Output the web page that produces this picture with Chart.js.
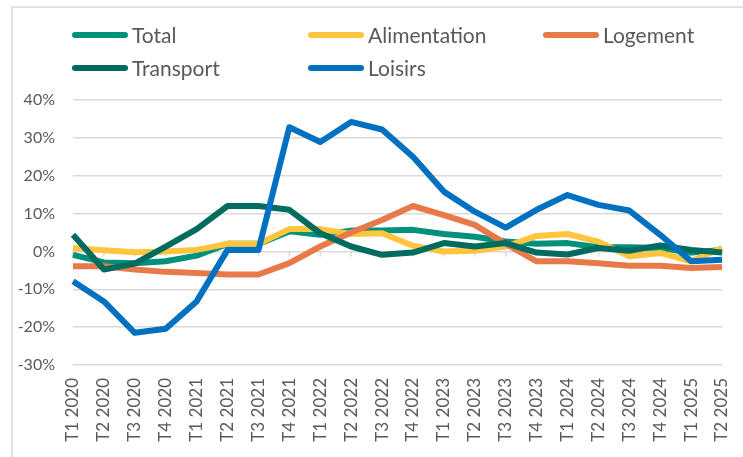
<!DOCTYPE html>
<html lang="fr">
<head>
<meta charset="utf-8">
<title>Évolution des prix par poste</title>
<script src="https://cdn.jsdelivr.net/npm/chart.js@4/dist/chart.umd.min.js"></script>
<style>
  html, body { margin: 0; padding: 0; background: #fff; }
  #wrap { width: 743px; height: 457px; position: relative; }
</style>
</head>
<body>
<div id="wrap"><canvas id="chart" width="743" height="457"></canvas></div>
<script>
// Trimestres (axe des catégories)
const quarters = [
  "T1 2020", "T2 2020", "T3 2020", "T4 2020",
  "T1 2021", "T2 2021", "T3 2021", "T4 2021",
  "T1 2022", "T2 2022", "T3 2022", "T4 2022",
  "T1 2023", "T2 2023", "T3 2023", "T4 2023",
  "T1 2024", "T2 2024", "T3 2024", "T4 2024",
  "T1 2025", "T2 2025"
];

// Variations en %
const total =        [-0.9, -2.9, -3.1, -2.6, -1.1, 2.0, 2.0, 5.3, 4.4, 5.5, 5.5, 5.7, 4.6, 3.9, 2.6, 2.0, 2.2, 1.1, 1.1, 0.9, -0.3, 0.4];
const alimentation = [0.9, 0.3, -0.2, 0.0, 0.4, 2.0, 2.0, 5.9, 5.9, 4.6, 4.8, 1.5, 0.0, 0.2, 1.3, 4.1, 4.6, 2.6, -1.3, -0.4, -2.6, 0.9];
const logement =     [-3.9, -3.9, -4.8, -5.4, -5.7, -6.1, -6.1, -3.1, 1.3, 5.0, 8.3, 12.0, 9.6, 7.0, 2.0, -2.6, -2.6, -3.1, -3.8, -3.8, -4.4, -4.1];
const transport =    [4.4, -4.8, -3.2, 1.3, 5.9, 12.0, 12.0, 11.0, 4.8, 1.3, -0.9, -0.3, 2.2, 1.3, 2.2, -0.3, -0.8, 0.9, 0.2, 1.6, 0.4, -0.3];
const loisirs =      [-7.9, -13.2, -21.5, -20.4, -13.2, 0.4, 0.4, 32.8, 28.9, 34.2, 32.2, 25.0, 15.8, 10.5, 6.3, 11.0, 14.9, 12.3, 10.8, 4.4, -2.6, -2.2];

const seriesNames = ["Total", "Alimentation", "Logement", "Transport", "Loisirs"];
const seriesData = [total, alimentation, logement, transport, loisirs];
const seriesColors = ["#00917C", "#FFC53D", "#E87A4A", "#006B5E", "#0070C0"];

const TEXT = "#595959";
const GRID = "#d9d9d9";

// Légende sur trois colonnes, comme dans Excel
const gridLegend = {
  id: "gridLegend",
  afterDraw(chart) {
    const ctx = chart.ctx;
    const cols = [72, 308, 543];
    const rows = [35, 68];
    ctx.save();
    ctx.font = "21px Lato";
    ctx.textBaseline = "middle";
    chart.data.datasets.forEach((ds, i) => {
      const x = cols[i % 3];
      const y = rows[Math.floor(i / 3)];
      ctx.strokeStyle = ds.borderColor;
      ctx.lineWidth = 6;
      ctx.lineCap = "round";
      ctx.beginPath();
      ctx.moveTo(x + 3, y);
      ctx.lineTo(x + 53, y);
      ctx.stroke();
      ctx.fillStyle = TEXT;
      ctx.fillText(ds.label, x + 60, y + 1);
    });
    ctx.restore();
  }
};

// Cadre gris et petites graduations sur la ligne du zéro
const frameAndTicks = {
  id: "frameAndTicks",
  beforeDraw(chart) {
    const ctx = chart.ctx;
    ctx.save();
    ctx.fillStyle = "#fff";
    ctx.fillRect(0, 0, chart.width, chart.height);
    ctx.strokeStyle = GRID;
    ctx.lineWidth = 1.5;
    ctx.strokeRect(12, 7, chart.width, chart.height);
    ctx.restore();
  },
  beforeDatasetsDraw(chart) {
    const ctx = chart.ctx;
    const xs = chart.scales.x;
    const y0 = chart.scales.y.getPixelForValue(0);
    ctx.save();
    ctx.strokeStyle = GRID;
    ctx.lineWidth = 1.5;
    quarters.forEach((q, i) => {
      const x = xs.getPixelForValue(i);
      ctx.beginPath();
      ctx.moveTo(x, y0);
      ctx.lineTo(x, y0 + 5);
      ctx.stroke();
    });
    ctx.restore();
  }
};

new Chart(document.getElementById("chart"), {
  type: "line",
  data: {
    labels: quarters,
    datasets: seriesNames.map((name, i) => ({
      label: name,
      data: seriesData[i],
      borderColor: seriesColors[i],
      backgroundColor: seriesColors[i],
      borderWidth: 6,
      tension: 0,
      pointRadius: 0,
      borderJoinStyle: "round",
      order: seriesNames.length - i
    }))
  },
  options: {
    responsive: false,
    animation: false,
    devicePixelRatio: 1,
    layout: { padding: { top: 100, right: 21, bottom: 0, left: 0 } },
    plugins: {
      legend: { display: false },
      tooltip: { enabled: false }
    },
    scales: {
      x: {
        offset: false,
        grid: { display: false, drawTicks: false },
        border: { display: false },
        ticks: {
          color: TEXT,
          font: { family: "Lato", size: 17 },
          minRotation: 90,
          maxRotation: 90,
          autoSkip: false,
          padding: 13
        },
        afterFit(scale) {
          scale.height = 92;
          scale.paddingLeft = 0;
          scale.paddingRight = 0;
        }
      },
      y: {
        min: -30,
        max: 40,
        grid: { color: GRID, lineWidth: 1.5, drawTicks: false },
        border: { display: false },
        ticks: {
          stepSize: 10,
          color: TEXT,
          font: { family: "Lato", size: 16 },
          padding: 18,
          callback: v => v + "%"
        },
        afterFit(scale) { scale.width = 73; }
      }
    }
  },
  plugins: [frameAndTicks, gridLegend]
});
</script>
</body>
</html>
